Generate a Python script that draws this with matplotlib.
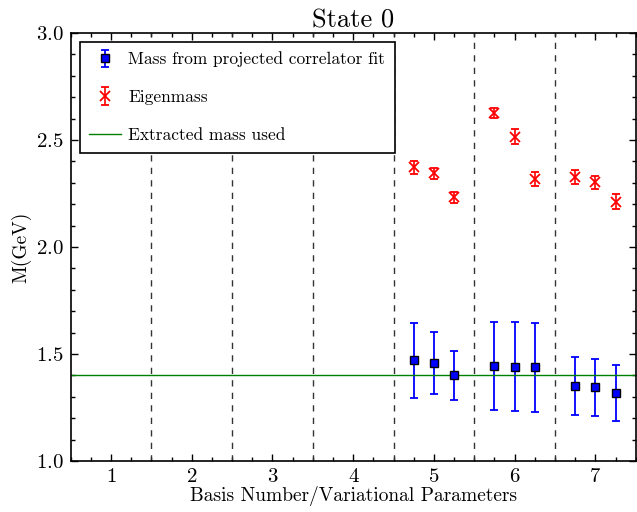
import numpy as np
import matplotlib.pyplot as plt

plt.rcParams['font.family'] = 'cmr10'
plt.rcParams['mathtext.fontset'] = 'cm'
plt.rcParams['axes.formatter.use_mathtext'] = True

# projected correlator fit masses
x_pos = [4.75, 5.0, 5.25, 5.75, 6.0, 6.25, 6.75, 7.0, 7.25]
fit_mass = [1.470, 1.460, 1.400, 1.444, 1.441, 1.438, 1.352, 1.344, 1.318]
fit_err = [0.176, 0.145, 0.114, 0.204, 0.208, 0.207, 0.135, 0.132, 0.131]

# eigenmasses
eig_mass = [2.372, 2.344, 2.232, 2.626, 2.514, 2.318, 2.327, 2.302, 2.212]
eig_err = [0.032, 0.027, 0.027, 0.022, 0.035, 0.034, 0.035, 0.031, 0.035]

extracted_mass = 1.40
basis_labels = ['1', '2', '3', '4', '5', '6', '7']
separators = [1.5, 2.5, 3.5, 4.5, 5.5, 6.5]

fig = plt.figure(figsize=(6.37, 5.12), dpi=100)
ax = fig.add_axes([0.111, 0.0996, 0.887, 0.836])

for s in separators:
    ax.axvline(s, color='#333333', linestyle=(0, (4.5, 4.5)), linewidth=1.0)

ax.errorbar(x_pos, fit_mass, yerr=fit_err, fmt='s', color='blue', mec='black',
            markersize=6, capsize=3, elinewidth=1.3, capthick=1.3,
            label='Mass from projected correlator fit')
ax.errorbar(x_pos, eig_mass, yerr=eig_err, fmt='x', color='red',
            markersize=6.5, mew=1.3, capsize=2.7, elinewidth=1.2, capthick=1.2,
            label='Eigenmass')
ax.axhline(extracted_mass, color='green', linewidth=1.0,
           label='Extracted mass used')

ax.set_xlim(0.5, 7.5)
ax.set_ylim(1.0, 3.0)
ax.set_xticks(np.arange(1, 8))
ax.set_xticklabels(basis_labels)
ax.set_xticks(np.arange(0.5, 7.51, 0.25), minor=True)
ax.set_yticks([1.0, 1.5, 2.0, 2.5, 3.0])
ax.set_yticks(np.arange(1.0, 3.01, 0.1), minor=True)
ax.tick_params(which='both', direction='in', top=True, right=True, labelsize=15,
               width=1.0)
ax.tick_params(which='major', length=5, pad=5)
ax.tick_params(which='minor', length=3)
for sp in ax.spines.values():
    sp.set_linewidth(1.2)

ax.set_title('State 0', fontsize=19, pad=4)
ax.set_xlabel('Basis Number/Variational Parameters', fontsize=14, labelpad=0)
ax.set_ylabel('M(GeV)', fontsize=14, labelpad=3)

handles, labels = ax.get_legend_handles_labels()
order = [labels.index('Mass from projected correlator fit'),
         labels.index('Eigenmass'),
         labels.index('Extracted mass used')]
leg = ax.legend([handles[i] for i in order], [labels[i] for i in order],
                loc='upper left', fontsize=12.5, fancybox=False, framealpha=1,
                edgecolor='black', borderpad=0.55, labelspacing=1.3,
                handlelength=1.8, handletextpad=0.45, borderaxespad=0,
                bbox_to_anchor=(0.016, 0.979))
leg.get_frame().set_linewidth(1.2)

fig.savefig('out.png', dpi=100)
